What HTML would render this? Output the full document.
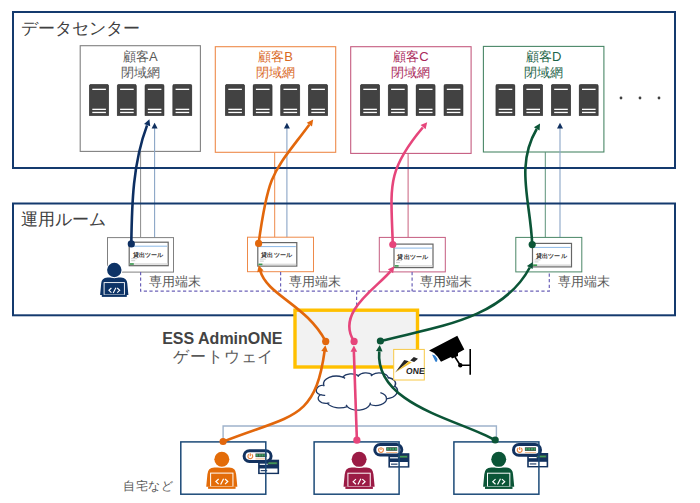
<!DOCTYPE html><html lang="ja"><head><meta charset="utf-8"><style>
html,body{margin:0;padding:0;background:#fff;width:700px;height:503px;overflow:hidden}
svg{display:block;font-family:"Liberation Sans",sans-serif}
</style></head><body>
<svg width="700" height="503" viewBox="0 0 700 503">
<defs>
<symbol id="srv" viewBox="0 0 20 32" width="20" height="32"><path d="M0.4,2 Q0.4,0.4 2,0.4 L18,0.4 Q19.6,0.4 19.6,2 L19.6,31.6 L0.4,31.6 z" fill="#424242" stroke="#363636" stroke-width="0.8"/><rect x="3.3" y="4.7" width="13.6" height="1.3" fill="#fff"/><rect x="3.3" y="24.7" width="13.6" height="1.3" fill="#fff"/><rect x="3.3" y="27.8" width="13.6" height="1.3" fill="#fff"/></symbol>
</defs>
<text x="21.2" y="33.8" font-size="17" fill="#404040">データセンター</text>
<rect x="80.2" y="45.7" width="120.2" height="105.7" fill="#fff" stroke="#808080" stroke-width="1.1"/>
<text x="140.3" y="61" font-size="13" fill="#595959" text-anchor="middle">顧客A</text>
<text x="140.3" y="76.5" font-size="13" fill="#595959" text-anchor="middle">閉域網</text>
<use href="#srv" x="89" y="84"/>
<use href="#srv" x="116.8" y="84"/>
<use href="#srv" x="144.5" y="84"/>
<use href="#srv" x="172.3" y="84"/>
<rect x="215.3" y="46.7" width="120.4" height="105.6" fill="#fff" stroke="#ee8a4a" stroke-width="1.1"/>
<text x="275.5" y="61" font-size="13" fill="#d9691f" text-anchor="middle">顧客B</text>
<text x="275.5" y="76.5" font-size="13" fill="#d9691f" text-anchor="middle">閉域網</text>
<use href="#srv" x="225" y="84"/>
<use href="#srv" x="252.6" y="84"/>
<use href="#srv" x="280.2" y="84"/>
<use href="#srv" x="308" y="84"/>
<rect x="350.7" y="46.7" width="120.4" height="106.7" fill="#fff" stroke="#c55c80" stroke-width="1.1"/>
<text x="410.9" y="61" font-size="13" fill="#a9285a" text-anchor="middle">顧客C</text>
<text x="410.9" y="76.5" font-size="13" fill="#a9285a" text-anchor="middle">閉域網</text>
<use href="#srv" x="360" y="84"/>
<use href="#srv" x="387.8" y="84"/>
<use href="#srv" x="415.6" y="84"/>
<use href="#srv" x="443.5" y="84"/>
<rect x="483.4" y="46.4" width="120.5" height="105.6" fill="#fff" stroke="#4a8767" stroke-width="1.1"/>
<text x="543.6" y="61" font-size="13" fill="#1d6448" text-anchor="middle">顧客D</text>
<text x="543.6" y="76.5" font-size="13" fill="#1d6448" text-anchor="middle">閉域網</text>
<use href="#srv" x="495.4" y="84"/>
<use href="#srv" x="523.1" y="84"/>
<use href="#srv" x="550.9" y="84"/>
<use href="#srv" x="578.7" y="84"/>
<circle cx="621" cy="98" r="1.4" fill="#404040"/>
<circle cx="640" cy="98" r="1.4" fill="#404040"/>
<circle cx="659" cy="98" r="1.4" fill="#404040"/>
<text x="21" y="225.3" font-size="16.9" fill="#404040">運用ルーム</text>
<line x1="140.6" y1="151.4" x2="140.6" y2="237.5" stroke="#8c8c8c" stroke-width="1"/>
<line x1="274.7" y1="152.3" x2="274.7" y2="237.5" stroke="#ee8a4a" stroke-width="1"/>
<line x1="408.1" y1="153.4" x2="408.1" y2="237.5" stroke="#c9607f" stroke-width="1"/>
<line x1="545.3" y1="152" x2="545.3" y2="237.5" stroke="#5c937a" stroke-width="1"/>
<line x1="154.6" y1="126" x2="154.6" y2="242.2" stroke="#8aa5c6" stroke-width="1.1"/>
<path d="M154.6,122.7 L157.6,128.6 L151.6,128.6 z" fill="#0f2f5f"/>
<line x1="286.9" y1="126" x2="286.9" y2="242.6" stroke="#8aa5c6" stroke-width="1.1"/>
<path d="M286.9,122.7 L289.9,128.6 L283.9,128.6 z" fill="#0f2f5f"/>
<line x1="560" y1="126" x2="560" y2="243.4" stroke="#8aa5c6" stroke-width="1.1"/>
<path d="M560,122.7 L563,128.6 L557,128.6 z" fill="#0f2f5f"/>
<rect x="13" y="12" width="662" height="156" fill="none" stroke="#143a6e" stroke-width="2"/>
<rect x="13" y="203.5" width="662" height="111.8" fill="none" stroke="#143a6e" stroke-width="2"/>
<rect x="107.5" y="237.6" width="66" height="34.5" fill="#fff" stroke="#808080" stroke-width="1"/>
<rect x="129.2" y="242.2" width="39" height="23.5" fill="#fff" stroke="#666" stroke-width="1.2"/>
<line x1="130.2" y1="246.2" x2="167.2" y2="246.2" stroke="#8ab8e6" stroke-width="1"/>
<text x="132.6" y="256.59999999999997" font-size="6" letter-spacing="0.2" fill="#333" font-weight="bold">貸出ツール</text>
<rect x="131.2" y="258.2" width="6" height="1" fill="#ccc"/><rect x="131.2" y="260.2" width="4" height="1" fill="#ccc"/>
<rect x="129.79999999999998" y="263.2" width="37.8" height="1.6" fill="#ddd"/><rect x="129.79999999999998" y="263.2" width="4" height="1.6" fill="#3a9a50"/>
<rect x="247.5" y="237.2" width="66" height="34.5" fill="#fff" stroke="#ee8a4a" stroke-width="1"/>
<rect x="257.8" y="242.6" width="39" height="23.5" fill="#fff" stroke="#666" stroke-width="1.2"/>
<line x1="258.8" y1="246.6" x2="295.8" y2="246.6" stroke="#8ab8e6" stroke-width="1"/>
<text x="261.2" y="257.0" font-size="6" letter-spacing="0.2" fill="#333" font-weight="bold">貸出ツール</text>
<rect x="259.8" y="258.6" width="6" height="1" fill="#ccc"/><rect x="259.8" y="260.6" width="4" height="1" fill="#ccc"/>
<rect x="258.40000000000003" y="263.6" width="37.8" height="1.6" fill="#ddd"/><rect x="258.40000000000003" y="263.6" width="4" height="1.6" fill="#3a9a50"/>
<rect x="379.3" y="237.4" width="66" height="34.5" fill="#fff" stroke="#c55c80" stroke-width="1"/>
<rect x="394" y="244.1" width="39" height="23.5" fill="#fff" stroke="#666" stroke-width="1.2"/>
<line x1="395" y1="248.1" x2="432" y2="248.1" stroke="#8ab8e6" stroke-width="1"/>
<text x="397.4" y="258.5" font-size="6" letter-spacing="0.2" fill="#333" font-weight="bold">貸出ツール</text>
<rect x="396" y="260.1" width="6" height="1" fill="#ccc"/><rect x="396" y="262.1" width="4" height="1" fill="#ccc"/>
<rect x="394.6" y="265.1" width="37.8" height="1.6" fill="#ddd"/><rect x="394.6" y="265.1" width="4" height="1.6" fill="#3a9a50"/>
<rect x="515.8" y="237.4" width="66" height="34.5" fill="#fff" stroke="#4a8767" stroke-width="1"/>
<rect x="532.5" y="243.4" width="39" height="23.5" fill="#fff" stroke="#666" stroke-width="1.2"/>
<line x1="533.5" y1="247.4" x2="570.5" y2="247.4" stroke="#8ab8e6" stroke-width="1"/>
<text x="535.9" y="257.8" font-size="6" letter-spacing="0.2" fill="#333" font-weight="bold">貸出ツール</text>
<rect x="534.5" y="259.4" width="6" height="1" fill="#ccc"/><rect x="534.5" y="261.4" width="4" height="1" fill="#ccc"/>
<rect x="533.1" y="264.4" width="37.8" height="1.6" fill="#ddd"/><rect x="533.1" y="264.4" width="4" height="1.6" fill="#3a9a50"/>
<path d="M140.6,272 V291.2 H549.3 V272 M280.6,272 V291.2 M412.1,272 V291.2 M356.6,291.2 V308" fill="none" stroke="#6c62b8" stroke-width="1.2" stroke-dasharray="3.2 2.4"/>
<text x="149" y="285.5" font-size="13" fill="#595959">専用端末</text>
<text x="289" y="285.5" font-size="13" fill="#595959">専用端末</text>
<text x="420" y="285.5" font-size="13" fill="#595959">専用端末</text>
<text x="558" y="285.5" font-size="13" fill="#595959">専用端末</text>
<rect x="295" y="310.2" width="122.5" height="56.8" fill="#f2f2f2" stroke="#ffc000" stroke-width="3.4"/>
<text x="282.5" y="343.5" font-size="16" font-weight="bold" fill="#434343" text-anchor="end">ESS AdminONE</text>
<text x="173" y="362" font-size="16" letter-spacing="0.9" fill="#595959">ゲートウェイ</text>
<path d="M323.71,385.11 A12.66,7.93 0 0 1 342.66,377.19 A10.00,6.27 0 0 1 358.51,375.66 A8.18,5.13 0 0 1 372.34,374.84 A9.11,5.69 0 0 1 388.25,377.51 A10.00,6.28 0 0 1 394.81,386.05 A12.70,7.96 0 0 1 386.53,398.78 A10.85,6.79 0 0 1 369.94,404.49 A12.66,7.96 0 0 1 347.30,406.60 A14.47,9.10 0 0 1 327.28,403.33 A8.17,5.11 0 0 1 320.36,394.76 A8.15,5.13 0 0 1 323.64,385.22 Z" fill="#fff" stroke="#1f3864" stroke-width="1.3"/>
<path d="M325.20,395.30 A8.15,5.13 0 0 1 320.45,394.61 M329.39,402.83 A8.17,5.11 0 0 1 327.31,403.16 M347.30,406.45 A12.66,7.96 0 0 1 346.04,404.95 M370.45,402.70 A12.66,7.96 0 0 1 369.95,404.35 M380.39,392.52 A10.85,6.79 0 0 1 386.49,398.68 M394.77,385.96 A10.00,6.28 0 0 1 392.06,388.27 M388.26,377.38 A9.11,5.69 0 0 1 388.40,378.48 M370.92,376.11 A9.11,5.69 0 0 1 372.31,374.72 M357.91,376.78 A8.18,5.13 0 0 1 358.59,375.58 M342.65,377.18 A12.66,7.93 0 0 1 345.09,378.35 M324.14,386.33 A12.66,7.93 0 0 1 323.71,385.11" fill="none" stroke="#1f3864" stroke-width="1.3"/>
<rect x="393.7" y="349.4" width="30.6" height="30.6" fill="#fff" stroke="#f7c845" stroke-width="1"/>
<path d="M395.2,372.6 L404.3,359.9 L408.9,361.3 z" fill="#262626"/><path d="M395.2,372.6 L408.9,361.3 L411.8,362.6 z" fill="#f2c12e"/><path d="M410.2,360.6 L413.8,357.0 L418.0,358.8 L414.2,362.0 z" fill="#262626"/>
<text x="405.8" y="373.7" font-size="8.6" font-weight="bold" fill="#262626" transform="skewX(-6) translate(39.3,0)">ONE</text>
<path d="M429,350.6 L457.3,335.8 L464.3,349.4 L458,353 L458,356 L452,358.5 L451,357 L441,361.8 L437.5,356.5 L434,353 z" fill="#000"/>
<path d="M432,354.5 L435,355.5 L437.5,359 L437,361.8 L435.5,361.8 z" fill="#2f7fd0"/>
<path d="M455,357 L460.3,365.3 M460.3,365.3 H470.2 M470.2,348.9 V374.7" stroke="#000" stroke-width="1.6" fill="none"/><circle cx="460.3" cy="365.3" r="2.2" fill="#000"/>
<path d="M223.1,441.6 V426 H496.4 V440.2" fill="none" stroke="#9fb3cb" stroke-width="1.4"/>
<rect x="180.8" y="441.9" width="85" height="52.3" fill="#fff"/>
<rect x="314.1" y="441.9" width="85" height="52.3" fill="#fff"/>
<rect x="453.9" y="441.9" width="85" height="52.3" fill="#fff"/>
<text x="123.4" y="489.8" font-size="12" letter-spacing="0.5" fill="#595959">自宅など</text>
<g transform="translate(100,262.6) scale(1.0)" fill="#0d3366"><path d="M1.2,21 Q1.5,15.2 7.5,14.9 L21,14.9 Q27,15.2 27.3,21 L28.4,32.3 L0.1,32.3 z"/><circle cx="14.3" cy="7.4" r="8.2" fill="#fff"/><circle cx="14.3" cy="7.4" r="7.2"/><rect x="4.1" y="20.0" width="20.3" height="12.3" stroke="#fff" stroke-width="0.9"/><rect x="1.8" y="32.2" width="25" height="2.1"/><path d="M11.4,25.4 L8.9,27.7 L11.4,30 M15.9,25.1 L13.2,30.3 M17.2,25.4 L19.7,27.7 L17.2,30" fill="none" stroke="#fff" stroke-width="1.1"/></g>
<g transform="translate(206.1,451.1) scale(1.1)" fill="#e36c09"><path d="M1.2,21 Q1.5,15.2 7.5,14.9 L21,14.9 Q27,15.2 27.3,21 L28.4,32.3 L0.1,32.3 z"/><circle cx="14.3" cy="7.4" r="7.8" fill="#fff"/><circle cx="14.3" cy="7.4" r="6.8"/><rect x="4.1" y="20.0" width="20.3" height="12.3" stroke="#fff" stroke-width="0.9"/><rect x="1.8" y="32.2" width="25" height="2.1"/><path d="M11.4,25.4 L8.9,27.7 L11.4,30 M15.9,25.1 L13.2,30.3 M17.2,25.4 L19.7,27.7 L17.2,30" fill="none" stroke="#fff" stroke-width="1.1"/></g>
<g transform="translate(343.4,451.2) scale(1.1)" fill="#9b1b45"><path d="M1.2,21 Q1.5,15.2 7.5,14.9 L21,14.9 Q27,15.2 27.3,21 L28.4,32.3 L0.1,32.3 z"/><circle cx="14.3" cy="7.4" r="7.8" fill="#fff"/><circle cx="14.3" cy="7.4" r="6.8"/><rect x="4.1" y="20.0" width="20.3" height="12.3" stroke="#fff" stroke-width="0.9"/><rect x="1.8" y="32.2" width="25" height="2.1"/><path d="M11.4,25.4 L8.9,27.7 L11.4,30 M15.9,25.1 L13.2,30.3 M17.2,25.4 L19.7,27.7 L17.2,30" fill="none" stroke="#fff" stroke-width="1.1"/></g>
<g transform="translate(483.0,451.2) scale(1.1)" fill="#0b5537"><path d="M1.2,21 Q1.5,15.2 7.5,14.9 L21,14.9 Q27,15.2 27.3,21 L28.4,32.3 L0.1,32.3 z"/><circle cx="14.3" cy="7.4" r="7.8" fill="#fff"/><circle cx="14.3" cy="7.4" r="6.8"/><rect x="4.1" y="20.0" width="20.3" height="12.3" stroke="#fff" stroke-width="0.9"/><rect x="1.8" y="32.2" width="25" height="2.1"/><path d="M11.4,25.4 L8.9,27.7 L11.4,30 M15.9,25.1 L13.2,30.3 M17.2,25.4 L19.7,27.7 L17.2,30" fill="none" stroke="#fff" stroke-width="1.1"/></g>
<rect x="259.1" y="460.7" width="19" height="12.4" fill="#13325f" stroke="#13325f" stroke-width="2"/><rect x="259.70000000000005" y="463.7" width="8" height="1.2" fill="#fff"/><rect x="267.6" y="461.9" width="9.8" height="2.6" fill="#39524a"/><rect x="268.3" y="462.5" width="8.4" height="1.4" fill="#3e9c5c"/><rect x="259.70000000000005" y="468.5" width="17.8" height="4.2" fill="#fff"/><rect x="260.70000000000005" y="470.09999999999997" width="6.5" height="1.1" fill="#13325f"/>
<rect x="244.1" y="450.8" width="27" height="10.6" rx="5.3" fill="#fff" stroke="#13325f" stroke-width="3"/><path d="M248.9,454.3 A2.4,2.4 0 1 0 251.7,454.3 M250.29999999999998,453.3 V456.3" fill="none" stroke="#ea8640" stroke-width="1.2"/><rect x="255.5" y="453.5" width="11.1" height="3.6" fill="#3b4740"/><rect x="256.1" y="454.1" width="2" height="2.4" fill="#3aa060"/><rect x="258.8" y="454.1" width="2" height="2.4" fill="#3aa060"/><rect x="261.5" y="454.1" width="2" height="2.4" fill="#3aa060"/><rect x="264.2" y="454.1" width="2" height="2.4" fill="#3aa060"/><rect x="255.5" y="458.5" width="11.1" height="0.8" fill="#f4a46a"/>
<rect x="389.4" y="454.2" width="19" height="12.4" fill="#13325f" stroke="#13325f" stroke-width="2"/><rect x="390.0" y="457.2" width="8" height="1.2" fill="#fff"/><rect x="397.9" y="455.4" width="9.8" height="2.6" fill="#39524a"/><rect x="398.59999999999997" y="456.0" width="8.4" height="1.4" fill="#3e9c5c"/><rect x="390.0" y="462.0" width="17.8" height="4.2" fill="#fff"/><rect x="391.0" y="463.59999999999997" width="6.5" height="1.1" fill="#13325f"/>
<rect x="374.8" y="444.5" width="27" height="10.6" rx="5.3" fill="#fff" stroke="#13325f" stroke-width="3"/><path d="M379.6,448.0 A2.4,2.4 0 1 0 382.40000000000003,448.0 M381.0,447.0 V450.0" fill="none" stroke="#ea8640" stroke-width="1.2"/><rect x="386.2" y="447.2" width="11.1" height="3.6" fill="#3b4740"/><rect x="386.8" y="447.8" width="2" height="2.4" fill="#3aa060"/><rect x="389.5" y="447.8" width="2" height="2.4" fill="#3aa060"/><rect x="392.2" y="447.8" width="2" height="2.4" fill="#3aa060"/><rect x="394.90000000000003" y="447.8" width="2" height="2.4" fill="#3aa060"/><rect x="386.2" y="452.2" width="11.1" height="0.8" fill="#f4a46a"/>
<rect x="528.2" y="454.0" width="19" height="12.4" fill="#13325f" stroke="#13325f" stroke-width="2"/><rect x="528.8000000000001" y="457.0" width="8" height="1.2" fill="#fff"/><rect x="536.7" y="455.2" width="9.8" height="2.6" fill="#39524a"/><rect x="537.4000000000001" y="455.8" width="8.4" height="1.4" fill="#3e9c5c"/><rect x="528.8000000000001" y="461.8" width="17.8" height="4.2" fill="#fff"/><rect x="529.8000000000001" y="463.4" width="6.5" height="1.1" fill="#13325f"/>
<rect x="513.5" y="444.6" width="27" height="10.6" rx="5.3" fill="#fff" stroke="#13325f" stroke-width="3"/><path d="M518.3,448.1 A2.4,2.4 0 1 0 521.1,448.1 M519.7,447.1 V450.1" fill="none" stroke="#ea8640" stroke-width="1.2"/><rect x="524.9" y="447.3" width="11.1" height="3.6" fill="#3b4740"/><rect x="525.5" y="447.90000000000003" width="2" height="2.4" fill="#3aa060"/><rect x="528.2" y="447.90000000000003" width="2" height="2.4" fill="#3aa060"/><rect x="530.9" y="447.90000000000003" width="2" height="2.4" fill="#3aa060"/><rect x="533.6" y="447.90000000000003" width="2" height="2.4" fill="#3aa060"/><rect x="524.9" y="452.3" width="11.1" height="0.8" fill="#f4a46a"/>
<rect x="180.8" y="441.9" width="85" height="52.3" fill="none" stroke="#1c4a78" stroke-width="1.5"/>
<rect x="314.1" y="441.9" width="85" height="52.3" fill="none" stroke="#1c4a78" stroke-width="1.5"/>
<rect x="453.9" y="441.9" width="85" height="52.3" fill="none" stroke="#1c4a78" stroke-width="1.5"/>
<path d="M131.30,243.90 C131.86,204.18 132.82,162.94 147.05,125.40" fill="none" stroke="#0d2f62" stroke-width="2.6"/>
<path d="M149.40,119.20 L150.22,126.35 L144.05,124.01 z" fill="#0d2f62"/>
<path d="M258.60,243.40 C268.60,170.99 272.69,173.51 309.30,124.70" fill="none" stroke="#e2670c" stroke-width="2.6"/>
<path d="M313.20,119.50 L312.00,126.60 L306.72,122.64 z" fill="#e2670c"/>
<path d="M392.80,244.50 C390.94,186.91 385.93,171.08 422.80,127.50" fill="none" stroke="#e6457b" stroke-width="2.6"/>
<path d="M427.20,122.30 L425.59,129.32 L420.55,125.05 z" fill="#e6457b"/>
<path d="M532.20,244.60 C530.60,201.59 514.98,165.86 536.70,129.00" fill="none" stroke="#0b5537" stroke-width="2.6"/>
<path d="M540.00,123.40 L539.59,130.59 L533.91,127.24 z" fill="#0b5537"/>
<path d="M325.70,341.40 C306.58,304.84 266.96,295.22 260.20,270.65" fill="none" stroke="#e2670c" stroke-width="2.6"/>
<path d="M258.70,265.20 L263.58,270.49 L257.22,272.25 z" fill="#e2670c"/>
<path d="M354.10,341.40 C334.91,312.15 378.61,286.47 390.35,271.40" fill="none" stroke="#e6457b" stroke-width="2.6"/>
<path d="M394.40,266.20 L393.07,273.28 L387.86,269.22 z" fill="#e6457b"/>
<path d="M380.40,341.10 C432.43,327.31 501.39,320.53 529.80,267.50" fill="none" stroke="#0b5537" stroke-width="2.6"/>
<path d="M532.80,261.90 L532.69,269.10 L526.87,265.98 z" fill="#0b5537"/>
<path d="M223.10,441.60 C292.19,414.39 314.97,420.78 324.60,351.00" fill="none" stroke="#e2670c" stroke-width="2.6"/>
<path d="M325.40,345.20 L327.79,351.99 L321.26,351.09 z" fill="#e2670c"/>
<path d="M495.10,440.20 C460.37,420.04 374.61,405.32 379.25,351.30" fill="none" stroke="#0b5537" stroke-width="2.6"/>
<path d="M379.80,344.90 L382.54,351.56 L375.96,350.99 z" fill="#0b5537"/>
<path d="M356.9,440.2 L353.85,351.3" stroke="#e6457b" stroke-width="2.6"/>
<path d="M353.9,345.4 L357.15000000000003,351.8 L350.55,351.8 z" fill="#e6457b"/>
<circle cx="131.3" cy="243.9" r="3.6" fill="#0d2f62"/>
<circle cx="258.6" cy="243.4" r="3.6" fill="#e2670c"/>
<circle cx="392.8" cy="244.5" r="3.6" fill="#e6457b"/>
<circle cx="532.2" cy="244.6" r="3.6" fill="#0b5537"/>
<circle cx="325.7" cy="341.4" r="3.6" fill="#e2670c"/>
<circle cx="354.1" cy="341.4" r="3.6" fill="#e6457b"/>
<circle cx="380.4" cy="341.0" r="3.6" fill="#0b5537"/>
<circle cx="223.1" cy="441.5" r="3.6" fill="#e2670c"/>
<circle cx="356.9" cy="440.2" r="3.6" fill="#e6457b"/>
<circle cx="495.2" cy="440.0" r="3.6" fill="#0b5537"/>
</svg></body></html>
